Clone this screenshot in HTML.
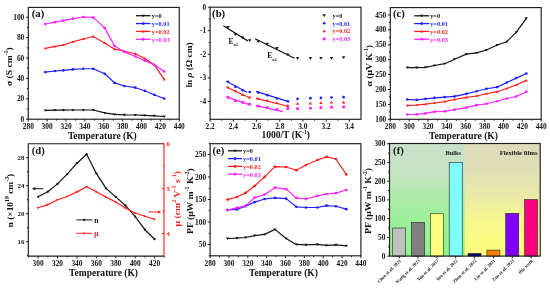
<!DOCTYPE html><html><head><meta charset="utf-8"><style>html,body{margin:0;padding:0;background:#fff;overflow:hidden;}svg{display:block;filter:blur(0.35px);}text{font-family:"Liberation Serif",serif;font-weight:bold;}</style></head><body>
<svg width="550" height="288" viewBox="0 0 550 288">
<defs><linearGradient id="gG" x1="0" y1="0" x2="0" y2="1"><stop offset="0" stop-color="rgb(200,225,200)"/><stop offset="0.19" stop-color="rgb(200,226,199)"/><stop offset="0.32" stop-color="rgb(193,230,190)"/><stop offset="0.41" stop-color="rgb(180,233,175)"/><stop offset="0.59" stop-color="rgb(162,238,159)"/><stop offset="0.77" stop-color="rgb(150,243,149)"/><stop offset="1" stop-color="rgb(140,246,140)"/></linearGradient><linearGradient id="gY" x1="0" y1="0" x2="0" y2="1"><stop offset="0" stop-color="rgb(221,221,186)"/><stop offset="0.19" stop-color="rgb(222,222,184)"/><stop offset="0.34" stop-color="rgb(228,228,176)"/><stop offset="0.5" stop-color="rgb(236,236,163)"/><stop offset="0.68" stop-color="rgb(246,246,142)"/><stop offset="0.86" stop-color="rgb(252,252,130)"/><stop offset="1" stop-color="rgb(253,253,126)"/></linearGradient></defs>
<line x1="28.30" y1="119.20" x2="28.30" y2="121.50" stroke="#1c1c1c" stroke-width="1.0"/>
<text x="28.30" y="129.30" font-size="7.4" text-anchor="middle" fill="#111">280</text>
<line x1="47.17" y1="119.20" x2="47.17" y2="121.50" stroke="#1c1c1c" stroke-width="1.0"/>
<text x="47.17" y="129.30" font-size="7.4" text-anchor="middle" fill="#111">300</text>
<line x1="66.04" y1="119.20" x2="66.04" y2="121.50" stroke="#1c1c1c" stroke-width="1.0"/>
<text x="66.04" y="129.30" font-size="7.4" text-anchor="middle" fill="#111">320</text>
<line x1="84.91" y1="119.20" x2="84.91" y2="121.50" stroke="#1c1c1c" stroke-width="1.0"/>
<text x="84.91" y="129.30" font-size="7.4" text-anchor="middle" fill="#111">340</text>
<line x1="103.77" y1="119.20" x2="103.77" y2="121.50" stroke="#1c1c1c" stroke-width="1.0"/>
<text x="103.77" y="129.30" font-size="7.4" text-anchor="middle" fill="#111">360</text>
<line x1="122.64" y1="119.20" x2="122.64" y2="121.50" stroke="#1c1c1c" stroke-width="1.0"/>
<text x="122.64" y="129.30" font-size="7.4" text-anchor="middle" fill="#111">380</text>
<line x1="141.51" y1="119.20" x2="141.51" y2="121.50" stroke="#1c1c1c" stroke-width="1.0"/>
<text x="141.51" y="129.30" font-size="7.4" text-anchor="middle" fill="#111">400</text>
<line x1="160.38" y1="119.20" x2="160.38" y2="121.50" stroke="#1c1c1c" stroke-width="1.0"/>
<text x="160.38" y="129.30" font-size="7.4" text-anchor="middle" fill="#111">420</text>
<line x1="179.25" y1="119.20" x2="179.25" y2="121.50" stroke="#1c1c1c" stroke-width="1.0"/>
<text x="179.25" y="129.30" font-size="7.4" text-anchor="middle" fill="#111">440</text>
<line x1="37.73" y1="119.20" x2="37.73" y2="120.60" stroke="#1c1c1c" stroke-width="1.0"/>
<line x1="56.60" y1="119.20" x2="56.60" y2="120.60" stroke="#1c1c1c" stroke-width="1.0"/>
<line x1="75.47" y1="119.20" x2="75.47" y2="120.60" stroke="#1c1c1c" stroke-width="1.0"/>
<line x1="94.34" y1="119.20" x2="94.34" y2="120.60" stroke="#1c1c1c" stroke-width="1.0"/>
<line x1="113.21" y1="119.20" x2="113.21" y2="120.60" stroke="#1c1c1c" stroke-width="1.0"/>
<line x1="132.08" y1="119.20" x2="132.08" y2="120.60" stroke="#1c1c1c" stroke-width="1.0"/>
<line x1="150.95" y1="119.20" x2="150.95" y2="120.60" stroke="#1c1c1c" stroke-width="1.0"/>
<line x1="169.82" y1="119.20" x2="169.82" y2="120.60" stroke="#1c1c1c" stroke-width="1.0"/>
<line x1="26.00" y1="119.20" x2="28.30" y2="119.20" stroke="#1c1c1c" stroke-width="1.0"/>
<text x="24.30" y="121.75" font-size="7.4" text-anchor="end" fill="#111">0</text>
<line x1="26.00" y1="98.80" x2="28.30" y2="98.80" stroke="#1c1c1c" stroke-width="1.0"/>
<text x="24.30" y="101.35" font-size="7.4" text-anchor="end" fill="#111">20</text>
<line x1="26.00" y1="78.40" x2="28.30" y2="78.40" stroke="#1c1c1c" stroke-width="1.0"/>
<text x="24.30" y="80.95" font-size="7.4" text-anchor="end" fill="#111">40</text>
<line x1="26.00" y1="58.00" x2="28.30" y2="58.00" stroke="#1c1c1c" stroke-width="1.0"/>
<text x="24.30" y="60.55" font-size="7.4" text-anchor="end" fill="#111">60</text>
<line x1="26.00" y1="37.60" x2="28.30" y2="37.60" stroke="#1c1c1c" stroke-width="1.0"/>
<text x="24.30" y="40.15" font-size="7.4" text-anchor="end" fill="#111">80</text>
<line x1="26.00" y1="17.20" x2="28.30" y2="17.20" stroke="#1c1c1c" stroke-width="1.0"/>
<text x="24.30" y="19.75" font-size="7.4" text-anchor="end" fill="#111">100</text>
<line x1="26.90" y1="109.00" x2="28.30" y2="109.00" stroke="#1c1c1c" stroke-width="1.0"/>
<line x1="26.90" y1="88.60" x2="28.30" y2="88.60" stroke="#1c1c1c" stroke-width="1.0"/>
<line x1="26.90" y1="68.20" x2="28.30" y2="68.20" stroke="#1c1c1c" stroke-width="1.0"/>
<line x1="26.90" y1="47.80" x2="28.30" y2="47.80" stroke="#1c1c1c" stroke-width="1.0"/>
<line x1="26.90" y1="27.40" x2="28.30" y2="27.40" stroke="#1c1c1c" stroke-width="1.0"/>
<polyline points="45.30,110.40 54.90,110.20 63.30,110.10 72.80,110.00 83.30,110.00 93.20,110.00 104.70,112.90 114.60,114.40 124.40,114.80 135.40,115.00 144.80,115.40 154.20,115.80 164.20,116.50" fill="none" stroke="#141414" stroke-width="1.2" stroke-linejoin="round"/>
<path d="M43.75,109.39L46.85,109.39L45.30,111.82Z" fill="#141414"/>
<path d="M53.35,109.19L56.45,109.19L54.90,111.62Z" fill="#141414"/>
<path d="M61.75,109.09L64.85,109.09L63.30,111.52Z" fill="#141414"/>
<path d="M71.25,108.99L74.35,108.99L72.80,111.42Z" fill="#141414"/>
<path d="M81.75,108.99L84.85,108.99L83.30,111.42Z" fill="#141414"/>
<path d="M91.65,108.99L94.75,108.99L93.20,111.42Z" fill="#141414"/>
<path d="M103.15,111.89L106.25,111.89L104.70,114.32Z" fill="#141414"/>
<path d="M113.05,113.39L116.15,113.39L114.60,115.82Z" fill="#141414"/>
<path d="M122.85,113.79L125.95,113.79L124.40,116.22Z" fill="#141414"/>
<path d="M133.85,113.99L136.95,113.99L135.40,116.42Z" fill="#141414"/>
<path d="M143.25,114.39L146.35,114.39L144.80,116.82Z" fill="#141414"/>
<path d="M152.65,114.79L155.75,114.79L154.20,117.22Z" fill="#141414"/>
<path d="M162.65,115.49L165.75,115.49L164.20,117.92Z" fill="#141414"/>
<polyline points="45.30,72.10 54.90,71.00 63.30,70.40 72.80,69.40 83.30,68.75 93.20,68.75 104.70,73.80 114.60,82.90 124.40,86.00 135.40,87.70 144.80,90.80 154.20,94.80 164.20,98.50" fill="none" stroke="#1e1eff" stroke-width="1.2" stroke-linejoin="round"/>
<circle cx="45.30" cy="72.10" r="1.35" fill="#1e1eff"/>
<circle cx="54.90" cy="71.00" r="1.35" fill="#1e1eff"/>
<circle cx="63.30" cy="70.40" r="1.35" fill="#1e1eff"/>
<circle cx="72.80" cy="69.40" r="1.35" fill="#1e1eff"/>
<circle cx="83.30" cy="68.75" r="1.35" fill="#1e1eff"/>
<circle cx="93.20" cy="68.75" r="1.35" fill="#1e1eff"/>
<circle cx="104.70" cy="73.80" r="1.35" fill="#1e1eff"/>
<circle cx="114.60" cy="82.90" r="1.35" fill="#1e1eff"/>
<circle cx="124.40" cy="86.00" r="1.35" fill="#1e1eff"/>
<circle cx="135.40" cy="87.70" r="1.35" fill="#1e1eff"/>
<circle cx="144.80" cy="90.80" r="1.35" fill="#1e1eff"/>
<circle cx="154.20" cy="94.80" r="1.35" fill="#1e1eff"/>
<circle cx="164.20" cy="98.50" r="1.35" fill="#1e1eff"/>
<polyline points="45.30,48.30 54.90,46.40 63.30,45.10 72.80,41.80 83.30,39.00 93.20,36.50 104.70,42.90 114.60,49.20 124.40,51.25 135.40,53.75 144.80,58.50 154.20,64.80 164.20,79.40" fill="none" stroke="#ff1e1e" stroke-width="1.2" stroke-linejoin="round"/>
<path d="M43.75,49.31L46.85,49.31L45.30,46.88Z" fill="#ff1e1e"/>
<path d="M53.35,47.41L56.45,47.41L54.90,44.98Z" fill="#ff1e1e"/>
<path d="M61.75,46.11L64.85,46.11L63.30,43.68Z" fill="#ff1e1e"/>
<path d="M71.25,42.81L74.35,42.81L72.80,40.38Z" fill="#ff1e1e"/>
<path d="M81.75,40.01L84.85,40.01L83.30,37.58Z" fill="#ff1e1e"/>
<path d="M91.65,37.51L94.75,37.51L93.20,35.08Z" fill="#ff1e1e"/>
<path d="M103.15,43.91L106.25,43.91L104.70,41.48Z" fill="#ff1e1e"/>
<path d="M113.05,50.21L116.15,50.21L114.60,47.78Z" fill="#ff1e1e"/>
<path d="M122.85,52.26L125.95,52.26L124.40,49.83Z" fill="#ff1e1e"/>
<path d="M133.85,54.76L136.95,54.76L135.40,52.33Z" fill="#ff1e1e"/>
<path d="M143.25,59.51L146.35,59.51L144.80,57.08Z" fill="#ff1e1e"/>
<path d="M152.65,65.81L155.75,65.81L154.20,63.38Z" fill="#ff1e1e"/>
<path d="M162.65,80.41L165.75,80.41L164.20,77.98Z" fill="#ff1e1e"/>
<polyline points="45.30,24.00 54.90,22.20 63.30,20.70 72.80,18.70 83.30,17.00 93.20,17.40 104.70,27.90 114.60,46.00 124.40,51.90 135.40,56.50 144.80,60.60 154.20,64.80 164.20,71.50" fill="none" stroke="#ff1eff" stroke-width="1.2" stroke-linejoin="round"/>
<circle cx="45.30" cy="24.00" r="1.35" fill="#ff1eff"/>
<circle cx="54.90" cy="22.20" r="1.35" fill="#ff1eff"/>
<circle cx="63.30" cy="20.70" r="1.35" fill="#ff1eff"/>
<circle cx="72.80" cy="18.70" r="1.35" fill="#ff1eff"/>
<circle cx="83.30" cy="17.00" r="1.35" fill="#ff1eff"/>
<circle cx="93.20" cy="17.40" r="1.35" fill="#ff1eff"/>
<circle cx="104.70" cy="27.90" r="1.35" fill="#ff1eff"/>
<circle cx="114.60" cy="46.00" r="1.35" fill="#ff1eff"/>
<circle cx="124.40" cy="51.90" r="1.35" fill="#ff1eff"/>
<circle cx="135.40" cy="56.50" r="1.35" fill="#ff1eff"/>
<circle cx="144.80" cy="60.60" r="1.35" fill="#ff1eff"/>
<circle cx="154.20" cy="64.80" r="1.35" fill="#ff1eff"/>
<circle cx="164.20" cy="71.50" r="1.35" fill="#ff1eff"/>
<rect x="28.30" y="7.40" width="150.95" height="111.80" fill="none" stroke="#1c1c1c" stroke-width="1.15"/>
<text x="31.80" y="17.10" font-size="10.7" text-anchor="start" fill="#111">(a)</text>
<line x1="136.00" y1="15.70" x2="150.50" y2="15.70" stroke="#141414" stroke-width="1.3"/>
<path d="M141.64,14.65L144.86,14.65L143.25,17.17Z" fill="#141414"/>
<text x="151.80" y="18.05" font-size="6.3" text-anchor="start" fill="#141414">y=0</text>
<line x1="136.00" y1="23.55" x2="150.50" y2="23.55" stroke="#1e1eff" stroke-width="1.3"/>
<circle cx="143.25" cy="23.55" r="1.40" fill="#1e1eff"/>
<text x="151.80" y="25.90" font-size="6.3" text-anchor="start" fill="#1e1eff">y=0.01</text>
<line x1="136.00" y1="31.40" x2="150.50" y2="31.40" stroke="#ff1e1e" stroke-width="1.3"/>
<path d="M141.64,32.45L144.86,32.45L143.25,29.93Z" fill="#ff1e1e"/>
<text x="151.80" y="33.75" font-size="6.3" text-anchor="start" fill="#ff1e1e">y=0.02</text>
<line x1="136.00" y1="39.25" x2="150.50" y2="39.25" stroke="#ff1eff" stroke-width="1.3"/>
<circle cx="143.25" cy="39.25" r="1.40" fill="#ff1eff"/>
<text x="151.80" y="41.60" font-size="6.3" text-anchor="start" fill="#ff1eff">y=0.03</text>
<text transform="translate(12.00,66.65) rotate(-90)" font-size="9.0" text-anchor="middle" fill="#111" textLength="38.70" lengthAdjust="spacingAndGlyphs">σ (S cm<tspan baseline-shift="4.4" font-size="5.6">-1</tspan>)</text>
<text x="67.90" y="138.50" font-size="9.6" text-anchor="start" fill="#111" textLength="68.90" lengthAdjust="spacingAndGlyphs">Temperature (K)</text>
<line x1="210.10" y1="119.30" x2="210.10" y2="121.60" stroke="#1c1c1c" stroke-width="1.0"/>
<text x="210.10" y="129.40" font-size="7.4" text-anchor="middle" fill="#111">2.2</text>
<line x1="233.32" y1="119.30" x2="233.32" y2="121.60" stroke="#1c1c1c" stroke-width="1.0"/>
<text x="233.32" y="129.40" font-size="7.4" text-anchor="middle" fill="#111">2.4</text>
<line x1="256.53" y1="119.30" x2="256.53" y2="121.60" stroke="#1c1c1c" stroke-width="1.0"/>
<text x="256.53" y="129.40" font-size="7.4" text-anchor="middle" fill="#111">2.6</text>
<line x1="279.75" y1="119.30" x2="279.75" y2="121.60" stroke="#1c1c1c" stroke-width="1.0"/>
<text x="279.75" y="129.40" font-size="7.4" text-anchor="middle" fill="#111">2.8</text>
<line x1="302.96" y1="119.30" x2="302.96" y2="121.60" stroke="#1c1c1c" stroke-width="1.0"/>
<text x="302.96" y="129.40" font-size="7.4" text-anchor="middle" fill="#111">3.0</text>
<line x1="326.18" y1="119.30" x2="326.18" y2="121.60" stroke="#1c1c1c" stroke-width="1.0"/>
<text x="326.18" y="129.40" font-size="7.4" text-anchor="middle" fill="#111">3.2</text>
<line x1="349.39" y1="119.30" x2="349.39" y2="121.60" stroke="#1c1c1c" stroke-width="1.0"/>
<text x="349.39" y="129.40" font-size="7.4" text-anchor="middle" fill="#111">3.4</text>
<line x1="221.71" y1="119.30" x2="221.71" y2="120.70" stroke="#1c1c1c" stroke-width="1.0"/>
<line x1="244.92" y1="119.30" x2="244.92" y2="120.70" stroke="#1c1c1c" stroke-width="1.0"/>
<line x1="268.14" y1="119.30" x2="268.14" y2="120.70" stroke="#1c1c1c" stroke-width="1.0"/>
<line x1="291.35" y1="119.30" x2="291.35" y2="120.70" stroke="#1c1c1c" stroke-width="1.0"/>
<line x1="314.57" y1="119.30" x2="314.57" y2="120.70" stroke="#1c1c1c" stroke-width="1.0"/>
<line x1="337.78" y1="119.30" x2="337.78" y2="120.70" stroke="#1c1c1c" stroke-width="1.0"/>
<line x1="207.80" y1="7.10" x2="210.10" y2="7.10" stroke="#1c1c1c" stroke-width="1.0"/>
<text x="206.10" y="9.65" font-size="7.4" text-anchor="end" fill="#111">0</text>
<line x1="207.80" y1="30.70" x2="210.10" y2="30.70" stroke="#1c1c1c" stroke-width="1.0"/>
<text x="206.10" y="33.25" font-size="7.4" text-anchor="end" fill="#111">-1</text>
<line x1="207.80" y1="54.30" x2="210.10" y2="54.30" stroke="#1c1c1c" stroke-width="1.0"/>
<text x="206.10" y="56.85" font-size="7.4" text-anchor="end" fill="#111">-2</text>
<line x1="207.80" y1="77.90" x2="210.10" y2="77.90" stroke="#1c1c1c" stroke-width="1.0"/>
<text x="206.10" y="80.45" font-size="7.4" text-anchor="end" fill="#111">-3</text>
<line x1="207.80" y1="101.50" x2="210.10" y2="101.50" stroke="#1c1c1c" stroke-width="1.0"/>
<text x="206.10" y="104.05" font-size="7.4" text-anchor="end" fill="#111">-4</text>
<line x1="208.70" y1="18.90" x2="210.10" y2="18.90" stroke="#1c1c1c" stroke-width="1.0"/>
<line x1="208.70" y1="42.50" x2="210.10" y2="42.50" stroke="#1c1c1c" stroke-width="1.0"/>
<line x1="208.70" y1="66.10" x2="210.10" y2="66.10" stroke="#1c1c1c" stroke-width="1.0"/>
<line x1="208.70" y1="89.70" x2="210.10" y2="89.70" stroke="#1c1c1c" stroke-width="1.0"/>
<line x1="208.70" y1="113.30" x2="210.10" y2="113.30" stroke="#1c1c1c" stroke-width="1.0"/>
<line x1="223.30" y1="25.70" x2="247.80" y2="40.90" stroke="#141414" stroke-width="1.25"/>
<line x1="255.10" y1="38.70" x2="294.50" y2="58.20" stroke="#141414" stroke-width="1.25"/>
<line x1="226.30" y1="81.30" x2="247.10" y2="92.20" stroke="#1e1eff" stroke-width="1.25"/>
<line x1="256.10" y1="91.40" x2="289.30" y2="101.80" stroke="#1e1eff" stroke-width="1.25"/>
<line x1="226.30" y1="87.00" x2="249.70" y2="97.80" stroke="#ff1e1e" stroke-width="1.25"/>
<line x1="256.00" y1="98.40" x2="289.00" y2="106.50" stroke="#ff1e1e" stroke-width="1.25"/>
<line x1="226.30" y1="96.90" x2="249.40" y2="104.70" stroke="#ff1eff" stroke-width="1.25"/>
<line x1="256.00" y1="105.60" x2="282.70" y2="111.70" stroke="#ff1eff" stroke-width="1.25"/>
<path d="M226.28,26.07L229.72,26.07L228.00,28.77Z" fill="#141414"/>
<path d="M233.68,33.38L237.12,33.38L235.40,36.08Z" fill="#141414"/>
<path d="M240.97,36.48L244.42,36.48L242.70,39.18Z" fill="#141414"/>
<path d="M247.97,39.17L251.42,39.17L249.70,41.88Z" fill="#141414"/>
<path d="M256.47,40.38L259.93,40.38L258.20,43.08Z" fill="#141414"/>
<path d="M265.57,42.67L269.03,42.67L267.30,45.38Z" fill="#141414"/>
<path d="M275.17,47.08L278.62,47.08L276.90,49.78Z" fill="#141414"/>
<path d="M286.07,53.38L289.53,53.38L287.80,56.08Z" fill="#141414"/>
<path d="M295.88,57.08L299.33,57.08L297.60,59.78Z" fill="#141414"/>
<path d="M308.67,57.08L312.12,57.08L310.40,59.78Z" fill="#141414"/>
<path d="M319.17,57.08L322.62,57.08L320.90,59.78Z" fill="#141414"/>
<path d="M329.77,57.08L333.23,57.08L331.50,59.78Z" fill="#141414"/>
<path d="M341.88,56.17L345.33,56.17L343.60,58.88Z" fill="#141414"/>
<circle cx="228.00" cy="81.80" r="1.35" fill="#1e1eff"/>
<circle cx="235.40" cy="86.80" r="1.35" fill="#1e1eff"/>
<circle cx="242.70" cy="90.30" r="1.35" fill="#1e1eff"/>
<circle cx="249.70" cy="92.00" r="1.35" fill="#1e1eff"/>
<circle cx="258.20" cy="92.60" r="1.35" fill="#1e1eff"/>
<circle cx="267.30" cy="95.20" r="1.35" fill="#1e1eff"/>
<circle cx="276.90" cy="98.30" r="1.35" fill="#1e1eff"/>
<circle cx="287.80" cy="101.25" r="1.35" fill="#1e1eff"/>
<circle cx="297.60" cy="98.90" r="1.35" fill="#1e1eff"/>
<circle cx="310.40" cy="98.20" r="1.35" fill="#1e1eff"/>
<circle cx="320.90" cy="97.90" r="1.35" fill="#1e1eff"/>
<circle cx="331.50" cy="97.50" r="1.35" fill="#1e1eff"/>
<circle cx="343.60" cy="97.20" r="1.35" fill="#1e1eff"/>
<path d="M226.28,88.53L229.72,88.53L228.00,85.83Z" fill="#ff1e1e"/>
<path d="M233.68,92.33L237.12,92.33L235.40,89.62Z" fill="#ff1e1e"/>
<path d="M240.97,95.92L244.42,95.92L242.70,93.22Z" fill="#ff1e1e"/>
<path d="M247.97,98.42L251.42,98.42L249.70,95.72Z" fill="#ff1e1e"/>
<path d="M256.47,99.72L259.93,99.72L258.20,97.02Z" fill="#ff1e1e"/>
<path d="M265.57,101.83L269.03,101.83L267.30,99.12Z" fill="#ff1e1e"/>
<path d="M275.17,104.12L278.62,104.12L276.90,101.42Z" fill="#ff1e1e"/>
<path d="M286.07,106.72L289.53,106.72L287.80,104.02Z" fill="#ff1e1e"/>
<path d="M295.88,104.72L299.33,104.72L297.60,102.02Z" fill="#ff1e1e"/>
<path d="M308.67,104.42L312.12,104.42L310.40,101.72Z" fill="#ff1e1e"/>
<path d="M319.17,103.92L322.62,103.92L320.90,101.22Z" fill="#ff1e1e"/>
<path d="M329.77,103.62L333.23,103.62L331.50,100.92Z" fill="#ff1e1e"/>
<path d="M341.88,103.42L345.33,103.42L343.60,100.72Z" fill="#ff1e1e"/>
<rect x="226.65" y="95.85" width="2.70" height="2.70" fill="#ff1eff"/>
<rect x="234.05" y="99.35" width="2.70" height="2.70" fill="#ff1eff"/>
<rect x="241.35" y="101.15" width="2.70" height="2.70" fill="#ff1eff"/>
<rect x="248.35" y="102.85" width="2.70" height="2.70" fill="#ff1eff"/>
<rect x="256.85" y="104.75" width="2.70" height="2.70" fill="#ff1eff"/>
<rect x="265.95" y="106.35" width="2.70" height="2.70" fill="#ff1eff"/>
<rect x="275.55" y="108.25" width="2.70" height="2.70" fill="#ff1eff"/>
<rect x="286.45" y="107.15" width="2.70" height="2.70" fill="#ff1eff"/>
<rect x="296.25" y="107.35" width="2.70" height="2.70" fill="#ff1eff"/>
<rect x="309.05" y="106.75" width="2.70" height="2.70" fill="#ff1eff"/>
<rect x="319.55" y="106.25" width="2.70" height="2.70" fill="#ff1eff"/>
<rect x="330.15" y="105.85" width="2.70" height="2.70" fill="#ff1eff"/>
<rect x="342.25" y="105.55" width="2.70" height="2.70" fill="#ff1eff"/>
<rect x="210.10" y="7.20" width="150.90" height="112.10" fill="none" stroke="#1c1c1c" stroke-width="1.15"/>
<text x="212.10" y="17.10" font-size="10.7" text-anchor="start" fill="#111">(b)</text>
<text x="228.40" y="43.80" font-size="7.5" text-anchor="start" fill="#111">E</text>
<text x="233.40" y="46.30" font-size="4.5" text-anchor="start" fill="#111">a1</text>
<text x="267.30" y="58.00" font-size="7.5" text-anchor="start" fill="#111">E</text>
<text x="272.30" y="60.50" font-size="4.5" text-anchor="start" fill="#111">a2</text>
<path d="M322.47,14.28L325.93,14.28L324.20,16.98Z" fill="#141414"/>
<text x="332.50" y="17.75" font-size="6.3" text-anchor="start" fill="#141414">y=0</text>
<circle cx="324.20" cy="23.25" r="1.35" fill="#1e1eff"/>
<text x="332.50" y="25.60" font-size="6.3" text-anchor="start" fill="#1e1eff">y=0.01</text>
<path d="M322.47,32.23L325.93,32.23L324.20,29.53Z" fill="#ff1e1e"/>
<text x="332.50" y="33.45" font-size="6.3" text-anchor="start" fill="#ff1e1e">y=0.02</text>
<rect x="322.85" y="37.60" width="2.70" height="2.70" fill="#ff1eff"/>
<text x="332.50" y="41.30" font-size="6.3" text-anchor="start" fill="#ff1eff">y=0.03</text>
<text transform="translate(191.80,65.00) rotate(-90)" font-size="9.0" text-anchor="middle" fill="#111" textLength="45.00" lengthAdjust="spacingAndGlyphs">ln <tspan font-style="italic">ρ</tspan> (Ω cm)</text>
<text x="261.50" y="137.80" font-size="9.6" text-anchor="start" fill="#111" textLength="48.50" lengthAdjust="spacingAndGlyphs">1000/T (K<tspan baseline-shift="4.4" font-size="5.6">-1</tspan>)</text>
<line x1="390.30" y1="119.30" x2="390.30" y2="121.60" stroke="#1c1c1c" stroke-width="1.0"/>
<text x="390.30" y="129.40" font-size="7.4" text-anchor="middle" fill="#111">280</text>
<line x1="409.16" y1="119.30" x2="409.16" y2="121.60" stroke="#1c1c1c" stroke-width="1.0"/>
<text x="409.16" y="129.40" font-size="7.4" text-anchor="middle" fill="#111">300</text>
<line x1="428.03" y1="119.30" x2="428.03" y2="121.60" stroke="#1c1c1c" stroke-width="1.0"/>
<text x="428.03" y="129.40" font-size="7.4" text-anchor="middle" fill="#111">320</text>
<line x1="446.89" y1="119.30" x2="446.89" y2="121.60" stroke="#1c1c1c" stroke-width="1.0"/>
<text x="446.89" y="129.40" font-size="7.4" text-anchor="middle" fill="#111">340</text>
<line x1="465.75" y1="119.30" x2="465.75" y2="121.60" stroke="#1c1c1c" stroke-width="1.0"/>
<text x="465.75" y="129.40" font-size="7.4" text-anchor="middle" fill="#111">360</text>
<line x1="484.61" y1="119.30" x2="484.61" y2="121.60" stroke="#1c1c1c" stroke-width="1.0"/>
<text x="484.61" y="129.40" font-size="7.4" text-anchor="middle" fill="#111">380</text>
<line x1="503.48" y1="119.30" x2="503.48" y2="121.60" stroke="#1c1c1c" stroke-width="1.0"/>
<text x="503.48" y="129.40" font-size="7.4" text-anchor="middle" fill="#111">400</text>
<line x1="522.34" y1="119.30" x2="522.34" y2="121.60" stroke="#1c1c1c" stroke-width="1.0"/>
<text x="522.34" y="129.40" font-size="7.4" text-anchor="middle" fill="#111">420</text>
<line x1="541.20" y1="119.30" x2="541.20" y2="121.60" stroke="#1c1c1c" stroke-width="1.0"/>
<text x="541.20" y="129.40" font-size="7.4" text-anchor="middle" fill="#111">440</text>
<line x1="399.73" y1="119.30" x2="399.73" y2="120.70" stroke="#1c1c1c" stroke-width="1.0"/>
<line x1="418.59" y1="119.30" x2="418.59" y2="120.70" stroke="#1c1c1c" stroke-width="1.0"/>
<line x1="437.46" y1="119.30" x2="437.46" y2="120.70" stroke="#1c1c1c" stroke-width="1.0"/>
<line x1="456.32" y1="119.30" x2="456.32" y2="120.70" stroke="#1c1c1c" stroke-width="1.0"/>
<line x1="475.18" y1="119.30" x2="475.18" y2="120.70" stroke="#1c1c1c" stroke-width="1.0"/>
<line x1="494.04" y1="119.30" x2="494.04" y2="120.70" stroke="#1c1c1c" stroke-width="1.0"/>
<line x1="512.91" y1="119.30" x2="512.91" y2="120.70" stroke="#1c1c1c" stroke-width="1.0"/>
<line x1="531.77" y1="119.30" x2="531.77" y2="120.70" stroke="#1c1c1c" stroke-width="1.0"/>
<line x1="388.00" y1="119.30" x2="390.30" y2="119.30" stroke="#1c1c1c" stroke-width="1.0"/>
<text x="386.30" y="121.85" font-size="7.4" text-anchor="end" fill="#111">100</text>
<line x1="388.00" y1="104.40" x2="390.30" y2="104.40" stroke="#1c1c1c" stroke-width="1.0"/>
<text x="386.30" y="106.95" font-size="7.4" text-anchor="end" fill="#111">150</text>
<line x1="388.00" y1="89.50" x2="390.30" y2="89.50" stroke="#1c1c1c" stroke-width="1.0"/>
<text x="386.30" y="92.05" font-size="7.4" text-anchor="end" fill="#111">200</text>
<line x1="388.00" y1="74.60" x2="390.30" y2="74.60" stroke="#1c1c1c" stroke-width="1.0"/>
<text x="386.30" y="77.15" font-size="7.4" text-anchor="end" fill="#111">250</text>
<line x1="388.00" y1="59.70" x2="390.30" y2="59.70" stroke="#1c1c1c" stroke-width="1.0"/>
<text x="386.30" y="62.25" font-size="7.4" text-anchor="end" fill="#111">300</text>
<line x1="388.00" y1="44.80" x2="390.30" y2="44.80" stroke="#1c1c1c" stroke-width="1.0"/>
<text x="386.30" y="47.35" font-size="7.4" text-anchor="end" fill="#111">350</text>
<line x1="388.00" y1="29.90" x2="390.30" y2="29.90" stroke="#1c1c1c" stroke-width="1.0"/>
<text x="386.30" y="32.45" font-size="7.4" text-anchor="end" fill="#111">400</text>
<line x1="388.00" y1="15.00" x2="390.30" y2="15.00" stroke="#1c1c1c" stroke-width="1.0"/>
<text x="386.30" y="17.55" font-size="7.4" text-anchor="end" fill="#111">450</text>
<line x1="388.90" y1="111.85" x2="390.30" y2="111.85" stroke="#1c1c1c" stroke-width="1.0"/>
<line x1="388.90" y1="96.95" x2="390.30" y2="96.95" stroke="#1c1c1c" stroke-width="1.0"/>
<line x1="388.90" y1="82.05" x2="390.30" y2="82.05" stroke="#1c1c1c" stroke-width="1.0"/>
<line x1="388.90" y1="67.15" x2="390.30" y2="67.15" stroke="#1c1c1c" stroke-width="1.0"/>
<line x1="388.90" y1="52.25" x2="390.30" y2="52.25" stroke="#1c1c1c" stroke-width="1.0"/>
<line x1="388.90" y1="37.35" x2="390.30" y2="37.35" stroke="#1c1c1c" stroke-width="1.0"/>
<line x1="388.90" y1="22.45" x2="390.30" y2="22.45" stroke="#1c1c1c" stroke-width="1.0"/>
<polyline points="407.30,67.60 416.70,67.60 425.50,67.30 434.50,65.50 444.80,63.70 454.50,59.20 466.40,54.10 476.60,52.90 486.40,50.00 497.20,45.00 506.80,41.70 516.20,32.30 526.30,18.30" fill="none" stroke="#141414" stroke-width="1.2" stroke-linejoin="round"/>
<path d="M405.75,66.59L408.85,66.59L407.30,69.02Z" fill="#141414"/>
<path d="M415.15,66.59L418.25,66.59L416.70,69.02Z" fill="#141414"/>
<path d="M423.95,66.29L427.05,66.29L425.50,68.72Z" fill="#141414"/>
<path d="M432.95,64.49L436.05,64.49L434.50,66.92Z" fill="#141414"/>
<path d="M443.25,62.69L446.35,62.69L444.80,65.12Z" fill="#141414"/>
<path d="M452.95,58.19L456.05,58.19L454.50,60.62Z" fill="#141414"/>
<path d="M464.85,53.09L467.95,53.09L466.40,55.52Z" fill="#141414"/>
<path d="M475.05,51.89L478.15,51.89L476.60,54.32Z" fill="#141414"/>
<path d="M484.85,48.99L487.95,48.99L486.40,51.42Z" fill="#141414"/>
<path d="M495.65,43.99L498.75,43.99L497.20,46.42Z" fill="#141414"/>
<path d="M505.25,40.69L508.35,40.69L506.80,43.12Z" fill="#141414"/>
<path d="M514.65,31.29L517.75,31.29L516.20,33.72Z" fill="#141414"/>
<path d="M524.75,17.29L527.85,17.29L526.30,19.72Z" fill="#141414"/>
<polyline points="407.30,99.50 416.70,99.90 425.50,98.80 434.50,97.80 444.80,97.10 454.50,96.40 466.40,93.80 476.60,91.25 486.40,88.75 497.20,87.10 506.80,82.50 516.20,78.10 526.30,73.50" fill="none" stroke="#1e1eff" stroke-width="1.2" stroke-linejoin="round"/>
<circle cx="407.30" cy="99.50" r="1.35" fill="#1e1eff"/>
<circle cx="416.70" cy="99.90" r="1.35" fill="#1e1eff"/>
<circle cx="425.50" cy="98.80" r="1.35" fill="#1e1eff"/>
<circle cx="434.50" cy="97.80" r="1.35" fill="#1e1eff"/>
<circle cx="444.80" cy="97.10" r="1.35" fill="#1e1eff"/>
<circle cx="454.50" cy="96.40" r="1.35" fill="#1e1eff"/>
<circle cx="466.40" cy="93.80" r="1.35" fill="#1e1eff"/>
<circle cx="476.60" cy="91.25" r="1.35" fill="#1e1eff"/>
<circle cx="486.40" cy="88.75" r="1.35" fill="#1e1eff"/>
<circle cx="497.20" cy="87.10" r="1.35" fill="#1e1eff"/>
<circle cx="506.80" cy="82.50" r="1.35" fill="#1e1eff"/>
<circle cx="516.20" cy="78.10" r="1.35" fill="#1e1eff"/>
<circle cx="526.30" cy="73.50" r="1.35" fill="#1e1eff"/>
<polyline points="407.30,105.40 416.70,105.10 425.50,104.20 434.50,103.00 444.80,101.60 454.50,99.50 466.40,97.40 476.60,96.00 486.40,93.75 497.20,91.70 506.80,88.50 516.20,85.00 526.30,80.40" fill="none" stroke="#ff1e1e" stroke-width="1.2" stroke-linejoin="round"/>
<path d="M405.75,106.41L408.85,106.41L407.30,103.98Z" fill="#ff1e1e"/>
<path d="M415.15,106.11L418.25,106.11L416.70,103.68Z" fill="#ff1e1e"/>
<path d="M423.95,105.21L427.05,105.21L425.50,102.78Z" fill="#ff1e1e"/>
<path d="M432.95,104.01L436.05,104.01L434.50,101.58Z" fill="#ff1e1e"/>
<path d="M443.25,102.61L446.35,102.61L444.80,100.18Z" fill="#ff1e1e"/>
<path d="M452.95,100.51L456.05,100.51L454.50,98.08Z" fill="#ff1e1e"/>
<path d="M464.85,98.41L467.95,98.41L466.40,95.98Z" fill="#ff1e1e"/>
<path d="M475.05,97.01L478.15,97.01L476.60,94.58Z" fill="#ff1e1e"/>
<path d="M484.85,94.76L487.95,94.76L486.40,92.33Z" fill="#ff1e1e"/>
<path d="M495.65,92.71L498.75,92.71L497.20,90.28Z" fill="#ff1e1e"/>
<path d="M505.25,89.51L508.35,89.51L506.80,87.08Z" fill="#ff1e1e"/>
<path d="M514.65,86.01L517.75,86.01L516.20,83.58Z" fill="#ff1e1e"/>
<path d="M524.75,81.41L527.85,81.41L526.30,78.98Z" fill="#ff1e1e"/>
<polyline points="407.30,114.50 416.70,114.30 425.50,113.40 434.50,111.70 444.80,111.30 454.50,109.60 466.40,107.70 476.60,105.20 486.40,103.75 497.20,101.25 506.80,98.50 516.20,96.50 526.30,91.70" fill="none" stroke="#ff1eff" stroke-width="1.2" stroke-linejoin="round"/>
<circle cx="407.30" cy="114.50" r="1.35" fill="#ff1eff"/>
<circle cx="416.70" cy="114.30" r="1.35" fill="#ff1eff"/>
<circle cx="425.50" cy="113.40" r="1.35" fill="#ff1eff"/>
<circle cx="434.50" cy="111.70" r="1.35" fill="#ff1eff"/>
<circle cx="444.80" cy="111.30" r="1.35" fill="#ff1eff"/>
<circle cx="454.50" cy="109.60" r="1.35" fill="#ff1eff"/>
<circle cx="466.40" cy="107.70" r="1.35" fill="#ff1eff"/>
<circle cx="476.60" cy="105.20" r="1.35" fill="#ff1eff"/>
<circle cx="486.40" cy="103.75" r="1.35" fill="#ff1eff"/>
<circle cx="497.20" cy="101.25" r="1.35" fill="#ff1eff"/>
<circle cx="506.80" cy="98.50" r="1.35" fill="#ff1eff"/>
<circle cx="516.20" cy="96.50" r="1.35" fill="#ff1eff"/>
<circle cx="526.30" cy="91.70" r="1.35" fill="#ff1eff"/>
<rect x="390.30" y="7.60" width="150.90" height="111.70" fill="none" stroke="#1c1c1c" stroke-width="1.15"/>
<text x="393.00" y="17.10" font-size="10.7" text-anchor="start" fill="#111">(c)</text>
<line x1="414.20" y1="15.80" x2="429.20" y2="15.80" stroke="#141414" stroke-width="1.3"/>
<path d="M420.09,14.75L423.31,14.75L421.70,17.27Z" fill="#141414"/>
<text x="430.20" y="18.15" font-size="6.3" text-anchor="start" fill="#141414">y=0</text>
<line x1="414.20" y1="23.60" x2="429.20" y2="23.60" stroke="#1e1eff" stroke-width="1.3"/>
<circle cx="421.70" cy="23.60" r="1.40" fill="#1e1eff"/>
<text x="430.20" y="25.95" font-size="6.3" text-anchor="start" fill="#1e1eff">y=0.01</text>
<line x1="414.20" y1="31.40" x2="429.20" y2="31.40" stroke="#ff1e1e" stroke-width="1.3"/>
<path d="M420.09,32.45L423.31,32.45L421.70,29.93Z" fill="#ff1e1e"/>
<text x="430.20" y="33.75" font-size="6.3" text-anchor="start" fill="#ff1e1e">y=0.02</text>
<line x1="414.20" y1="39.20" x2="429.20" y2="39.20" stroke="#ff1eff" stroke-width="1.3"/>
<circle cx="421.70" cy="39.20" r="1.40" fill="#ff1eff"/>
<text x="430.20" y="41.55" font-size="6.3" text-anchor="start" fill="#ff1eff">y=0.03</text>
<text transform="translate(371.50,65.75) rotate(-90)" font-size="9.0" text-anchor="middle" fill="#111" textLength="41.70" lengthAdjust="spacingAndGlyphs">α (μV K<tspan baseline-shift="4.4" font-size="5.6">-1</tspan>)</text>
<text x="429.00" y="138.60" font-size="9.6" text-anchor="start" fill="#111" textLength="68.90" lengthAdjust="spacingAndGlyphs">Temperature (K)</text>
<line x1="38.10" y1="256.10" x2="38.10" y2="258.40" stroke="#1c1c1c" stroke-width="1.0"/>
<text x="38.10" y="266.20" font-size="7.4" text-anchor="middle" fill="#111">300</text>
<line x1="57.52" y1="256.10" x2="57.52" y2="258.40" stroke="#1c1c1c" stroke-width="1.0"/>
<text x="57.52" y="266.20" font-size="7.4" text-anchor="middle" fill="#111">320</text>
<line x1="76.93" y1="256.10" x2="76.93" y2="258.40" stroke="#1c1c1c" stroke-width="1.0"/>
<text x="76.93" y="266.20" font-size="7.4" text-anchor="middle" fill="#111">340</text>
<line x1="96.35" y1="256.10" x2="96.35" y2="258.40" stroke="#1c1c1c" stroke-width="1.0"/>
<text x="96.35" y="266.20" font-size="7.4" text-anchor="middle" fill="#111">360</text>
<line x1="115.76" y1="256.10" x2="115.76" y2="258.40" stroke="#1c1c1c" stroke-width="1.0"/>
<text x="115.76" y="266.20" font-size="7.4" text-anchor="middle" fill="#111">380</text>
<line x1="135.18" y1="256.10" x2="135.18" y2="258.40" stroke="#1c1c1c" stroke-width="1.0"/>
<text x="135.18" y="266.20" font-size="7.4" text-anchor="middle" fill="#111">400</text>
<line x1="154.60" y1="256.10" x2="154.60" y2="258.40" stroke="#1c1c1c" stroke-width="1.0"/>
<text x="154.60" y="266.20" font-size="7.4" text-anchor="middle" fill="#111">420</text>
<line x1="28.39" y1="256.10" x2="28.39" y2="257.50" stroke="#1c1c1c" stroke-width="1.0"/>
<line x1="47.81" y1="256.10" x2="47.81" y2="257.50" stroke="#1c1c1c" stroke-width="1.0"/>
<line x1="67.22" y1="256.10" x2="67.22" y2="257.50" stroke="#1c1c1c" stroke-width="1.0"/>
<line x1="86.64" y1="256.10" x2="86.64" y2="257.50" stroke="#1c1c1c" stroke-width="1.0"/>
<line x1="106.06" y1="256.10" x2="106.06" y2="257.50" stroke="#1c1c1c" stroke-width="1.0"/>
<line x1="125.47" y1="256.10" x2="125.47" y2="257.50" stroke="#1c1c1c" stroke-width="1.0"/>
<line x1="144.89" y1="256.10" x2="144.89" y2="257.50" stroke="#1c1c1c" stroke-width="1.0"/>
<line x1="164.30" y1="256.10" x2="164.30" y2="257.50" stroke="#1c1c1c" stroke-width="1.0"/>
<line x1="26.00" y1="241.70" x2="28.30" y2="241.70" stroke="#1c1c1c" stroke-width="1.0"/>
<text x="24.30" y="244.04" font-size="6.8" text-anchor="end" fill="#111">16</text>
<line x1="26.00" y1="213.70" x2="28.30" y2="213.70" stroke="#1c1c1c" stroke-width="1.0"/>
<text x="24.30" y="216.04" font-size="6.8" text-anchor="end" fill="#111">20</text>
<line x1="26.00" y1="185.70" x2="28.30" y2="185.70" stroke="#1c1c1c" stroke-width="1.0"/>
<text x="24.30" y="188.04" font-size="6.8" text-anchor="end" fill="#111">24</text>
<line x1="26.00" y1="157.70" x2="28.30" y2="157.70" stroke="#1c1c1c" stroke-width="1.0"/>
<text x="24.30" y="160.04" font-size="6.8" text-anchor="end" fill="#111">28</text>
<line x1="26.90" y1="255.70" x2="28.30" y2="255.70" stroke="#1c1c1c" stroke-width="1.0"/>
<line x1="26.90" y1="227.70" x2="28.30" y2="227.70" stroke="#1c1c1c" stroke-width="1.0"/>
<line x1="26.90" y1="199.70" x2="28.30" y2="199.70" stroke="#1c1c1c" stroke-width="1.0"/>
<line x1="26.90" y1="171.70" x2="28.30" y2="171.70" stroke="#1c1c1c" stroke-width="1.0"/>
<polyline points="38.10,196.80 47.81,191.70 57.52,183.90 67.22,174.20 76.93,163.20 86.64,154.20 96.35,173.40 106.06,188.40 115.76,196.90 125.47,205.50 135.18,216.70 144.89,229.70 154.60,239.20" fill="none" stroke="#141414" stroke-width="1.2" stroke-linejoin="round"/>
<circle cx="38.10" cy="196.80" r="1.15" fill="#141414"/>
<circle cx="47.81" cy="191.70" r="1.15" fill="#141414"/>
<circle cx="57.52" cy="183.90" r="1.15" fill="#141414"/>
<circle cx="67.22" cy="174.20" r="1.15" fill="#141414"/>
<circle cx="76.93" cy="163.20" r="1.15" fill="#141414"/>
<circle cx="86.64" cy="154.20" r="1.15" fill="#141414"/>
<circle cx="96.35" cy="173.40" r="1.15" fill="#141414"/>
<circle cx="106.06" cy="188.40" r="1.15" fill="#141414"/>
<circle cx="115.76" cy="196.90" r="1.15" fill="#141414"/>
<circle cx="125.47" cy="205.50" r="1.15" fill="#141414"/>
<circle cx="135.18" cy="216.70" r="1.15" fill="#141414"/>
<circle cx="144.89" cy="229.70" r="1.15" fill="#141414"/>
<circle cx="154.60" cy="239.20" r="1.15" fill="#141414"/>
<polyline points="38.10,207.70 47.81,204.60 57.52,199.70 67.22,196.50 76.93,191.90 86.64,186.80 96.35,191.80 106.06,197.10 115.76,202.00 125.47,208.00 135.18,213.00 144.89,216.20 154.60,219.20" fill="none" stroke="#ff1e1e" stroke-width="1.2" stroke-linejoin="round"/>
<path d="M37.12,206.40L37.12,209.00L39.47,207.70Z" fill="#ff1e1e"/>
<path d="M46.83,203.30L46.83,205.90L49.17,204.60Z" fill="#ff1e1e"/>
<path d="M56.54,198.40L56.54,201.00L58.88,199.70Z" fill="#ff1e1e"/>
<path d="M66.25,195.20L66.25,197.80L68.59,196.50Z" fill="#ff1e1e"/>
<path d="M75.96,190.60L75.96,193.20L78.30,191.90Z" fill="#ff1e1e"/>
<path d="M85.67,185.50L85.67,188.10L88.00,186.80Z" fill="#ff1e1e"/>
<path d="M95.37,190.50L95.37,193.10L97.71,191.80Z" fill="#ff1e1e"/>
<path d="M105.08,195.80L105.08,198.40L107.42,197.10Z" fill="#ff1e1e"/>
<path d="M114.79,200.70L114.79,203.30L117.13,202.00Z" fill="#ff1e1e"/>
<path d="M124.50,206.70L124.50,209.30L126.84,208.00Z" fill="#ff1e1e"/>
<path d="M134.21,211.70L134.21,214.30L136.55,213.00Z" fill="#ff1e1e"/>
<path d="M143.91,214.90L143.91,217.50L146.25,216.20Z" fill="#ff1e1e"/>
<path d="M153.62,217.90L153.62,220.50L155.96,219.20Z" fill="#ff1e1e"/>
<line x1="28.30" y1="143.70" x2="164.00" y2="143.70" stroke="#1c1c1c" stroke-width="1.15"/>
<line x1="28.30" y1="143.20" x2="28.30" y2="256.60" stroke="#1c1c1c" stroke-width="1.15"/>
<line x1="28.30" y1="256.10" x2="164.00" y2="256.10" stroke="#1c1c1c" stroke-width="1.15"/>
<line x1="164.00" y1="143.20" x2="164.00" y2="256.60" stroke="#ff2020" stroke-width="1.15"/>
<line x1="164.00" y1="233.50" x2="161.70" y2="233.50" stroke="#ff2020" stroke-width="1.0"/>
<text x="166.60" y="235.84" font-size="6.8" text-anchor="start" fill="#ff2020">4</text>
<line x1="164.00" y1="188.60" x2="161.70" y2="188.60" stroke="#ff2020" stroke-width="1.0"/>
<text x="166.60" y="190.94" font-size="6.8" text-anchor="start" fill="#ff2020">5</text>
<line x1="164.00" y1="143.70" x2="161.70" y2="143.70" stroke="#ff2020" stroke-width="1.0"/>
<text x="166.60" y="146.04" font-size="6.8" text-anchor="start" fill="#ff2020">6</text>
<line x1="164.00" y1="255.95" x2="162.60" y2="255.95" stroke="#ff2020" stroke-width="1.0"/>
<line x1="164.00" y1="211.05" x2="162.60" y2="211.05" stroke="#ff2020" stroke-width="1.0"/>
<line x1="164.00" y1="166.15" x2="162.60" y2="166.15" stroke="#ff2020" stroke-width="1.0"/>
<text x="31.80" y="154.20" font-size="10.7" text-anchor="start" fill="#111">(d)</text>
<line x1="33.50" y1="188.70" x2="43.40" y2="188.70" stroke="#141414" stroke-width="1.0"/>
<path d="M31.8,188.7 L35.3,187.1 L35.3,190.3Z" fill="#141414"/>
<line x1="148.50" y1="212.00" x2="159.80" y2="212.00" stroke="#ff1e1e" stroke-width="1.0"/>
<path d="M161.5,212 L158.0,210.4 L158.0,213.6Z" fill="#ff1e1e"/>
<line x1="76.25" y1="219.90" x2="92.20" y2="219.90" stroke="#141414" stroke-width="1.0"/>
<circle cx="84.20" cy="219.90" r="1.10" fill="#141414"/>
<text x="94.30" y="222.60" font-size="7.6" text-anchor="start" fill="#111">n</text>
<line x1="76.25" y1="233.30" x2="92.20" y2="233.30" stroke="#ff1e1e" stroke-width="1.0"/>
<path d="M83.23,232.00L83.23,234.60L85.56,233.30Z" fill="#ff1e1e"/>
<text x="94.30" y="235.90" font-size="7.6" text-anchor="start" fill="#ff1e1e">μ</text>
<text transform="translate(12.50,200.60) rotate(-90)" font-size="9.0" text-anchor="middle" fill="#111" textLength="53.60" lengthAdjust="spacingAndGlyphs">n (×10<tspan baseline-shift="4.4" font-size="5.6">19</tspan> cm<tspan baseline-shift="4.4" font-size="5.6">-3</tspan>)</text>
<text transform="translate(180.30,198.65) rotate(-90)" font-size="9.0" text-anchor="middle" fill="#ff2020" textLength="55.50" lengthAdjust="spacingAndGlyphs">μ (cm<tspan baseline-shift="4.4" font-size="5.6">2</tspan> V<tspan baseline-shift="4.4" font-size="5.6">-1</tspan> s<tspan baseline-shift="4.4" font-size="5.6">-1</tspan>)</text>
<text x="69.00" y="276.30" font-size="9.6" text-anchor="start" fill="#111" textLength="69.00" lengthAdjust="spacingAndGlyphs">Temperature (K)</text>
<line x1="210.10" y1="255.80" x2="210.10" y2="258.10" stroke="#1c1c1c" stroke-width="1.0"/>
<text x="210.10" y="265.90" font-size="7.4" text-anchor="middle" fill="#111">280</text>
<line x1="228.95" y1="255.80" x2="228.95" y2="258.10" stroke="#1c1c1c" stroke-width="1.0"/>
<text x="228.95" y="265.90" font-size="7.4" text-anchor="middle" fill="#111">300</text>
<line x1="247.80" y1="255.80" x2="247.80" y2="258.10" stroke="#1c1c1c" stroke-width="1.0"/>
<text x="247.80" y="265.90" font-size="7.4" text-anchor="middle" fill="#111">320</text>
<line x1="266.65" y1="255.80" x2="266.65" y2="258.10" stroke="#1c1c1c" stroke-width="1.0"/>
<text x="266.65" y="265.90" font-size="7.4" text-anchor="middle" fill="#111">340</text>
<line x1="285.50" y1="255.80" x2="285.50" y2="258.10" stroke="#1c1c1c" stroke-width="1.0"/>
<text x="285.50" y="265.90" font-size="7.4" text-anchor="middle" fill="#111">360</text>
<line x1="304.35" y1="255.80" x2="304.35" y2="258.10" stroke="#1c1c1c" stroke-width="1.0"/>
<text x="304.35" y="265.90" font-size="7.4" text-anchor="middle" fill="#111">380</text>
<line x1="323.20" y1="255.80" x2="323.20" y2="258.10" stroke="#1c1c1c" stroke-width="1.0"/>
<text x="323.20" y="265.90" font-size="7.4" text-anchor="middle" fill="#111">400</text>
<line x1="342.05" y1="255.80" x2="342.05" y2="258.10" stroke="#1c1c1c" stroke-width="1.0"/>
<text x="342.05" y="265.90" font-size="7.4" text-anchor="middle" fill="#111">420</text>
<line x1="360.90" y1="255.80" x2="360.90" y2="258.10" stroke="#1c1c1c" stroke-width="1.0"/>
<text x="360.90" y="265.90" font-size="7.4" text-anchor="middle" fill="#111">440</text>
<line x1="219.53" y1="255.80" x2="219.53" y2="257.20" stroke="#1c1c1c" stroke-width="1.0"/>
<line x1="238.38" y1="255.80" x2="238.38" y2="257.20" stroke="#1c1c1c" stroke-width="1.0"/>
<line x1="257.22" y1="255.80" x2="257.22" y2="257.20" stroke="#1c1c1c" stroke-width="1.0"/>
<line x1="276.07" y1="255.80" x2="276.07" y2="257.20" stroke="#1c1c1c" stroke-width="1.0"/>
<line x1="294.92" y1="255.80" x2="294.92" y2="257.20" stroke="#1c1c1c" stroke-width="1.0"/>
<line x1="313.77" y1="255.80" x2="313.77" y2="257.20" stroke="#1c1c1c" stroke-width="1.0"/>
<line x1="332.62" y1="255.80" x2="332.62" y2="257.20" stroke="#1c1c1c" stroke-width="1.0"/>
<line x1="351.47" y1="255.80" x2="351.47" y2="257.20" stroke="#1c1c1c" stroke-width="1.0"/>
<line x1="207.80" y1="244.54" x2="210.10" y2="244.54" stroke="#1c1c1c" stroke-width="1.0"/>
<text x="206.10" y="247.09" font-size="7.4" text-anchor="end" fill="#111">50</text>
<line x1="207.80" y1="222.01" x2="210.10" y2="222.01" stroke="#1c1c1c" stroke-width="1.0"/>
<text x="206.10" y="224.56" font-size="7.4" text-anchor="end" fill="#111">100</text>
<line x1="207.80" y1="199.49" x2="210.10" y2="199.49" stroke="#1c1c1c" stroke-width="1.0"/>
<text x="206.10" y="202.04" font-size="7.4" text-anchor="end" fill="#111">150</text>
<line x1="207.80" y1="176.96" x2="210.10" y2="176.96" stroke="#1c1c1c" stroke-width="1.0"/>
<text x="206.10" y="179.51" font-size="7.4" text-anchor="end" fill="#111">200</text>
<line x1="207.80" y1="154.44" x2="210.10" y2="154.44" stroke="#1c1c1c" stroke-width="1.0"/>
<text x="206.10" y="156.99" font-size="7.4" text-anchor="end" fill="#111">250</text>
<line x1="208.70" y1="255.80" x2="210.10" y2="255.80" stroke="#1c1c1c" stroke-width="1.0"/>
<line x1="208.70" y1="233.28" x2="210.10" y2="233.28" stroke="#1c1c1c" stroke-width="1.0"/>
<line x1="208.70" y1="210.75" x2="210.10" y2="210.75" stroke="#1c1c1c" stroke-width="1.0"/>
<line x1="208.70" y1="188.23" x2="210.10" y2="188.23" stroke="#1c1c1c" stroke-width="1.0"/>
<line x1="208.70" y1="165.70" x2="210.10" y2="165.70" stroke="#1c1c1c" stroke-width="1.0"/>
<line x1="208.70" y1="143.18" x2="210.10" y2="143.18" stroke="#1c1c1c" stroke-width="1.0"/>
<polyline points="227.50,238.50 236.90,238.10 245.50,237.50 254.60,235.60 264.60,234.40 275.00,229.40 286.10,238.50 296.25,244.40 306.00,244.80 317.50,244.40 326.40,245.40 335.90,244.80 346.30,245.80" fill="none" stroke="#141414" stroke-width="1.2" stroke-linejoin="round"/>
<path d="M225.95,237.49L229.05,237.49L227.50,239.92Z" fill="#141414"/>
<path d="M235.35,237.09L238.45,237.09L236.90,239.52Z" fill="#141414"/>
<path d="M243.95,236.49L247.05,236.49L245.50,238.92Z" fill="#141414"/>
<path d="M253.05,234.59L256.15,234.59L254.60,237.02Z" fill="#141414"/>
<path d="M263.05,233.39L266.15,233.39L264.60,235.82Z" fill="#141414"/>
<path d="M273.45,228.39L276.55,228.39L275.00,230.82Z" fill="#141414"/>
<path d="M284.55,237.49L287.65,237.49L286.10,239.92Z" fill="#141414"/>
<path d="M294.70,243.39L297.80,243.39L296.25,245.82Z" fill="#141414"/>
<path d="M304.45,243.79L307.55,243.79L306.00,246.22Z" fill="#141414"/>
<path d="M315.95,243.39L319.05,243.39L317.50,245.82Z" fill="#141414"/>
<path d="M324.85,244.39L327.95,244.39L326.40,246.82Z" fill="#141414"/>
<path d="M334.35,243.79L337.45,243.79L335.90,246.22Z" fill="#141414"/>
<path d="M344.75,244.79L347.85,244.79L346.30,247.22Z" fill="#141414"/>
<polyline points="227.50,210.00 236.90,209.40 245.50,206.25 254.60,202.10 264.60,199.00 275.00,197.90 286.10,198.60 296.25,206.80 306.00,207.50 317.50,207.50 326.40,205.60 335.90,206.25 346.30,209.20" fill="none" stroke="#1e1eff" stroke-width="1.2" stroke-linejoin="round"/>
<circle cx="227.50" cy="210.00" r="1.35" fill="#1e1eff"/>
<circle cx="236.90" cy="209.40" r="1.35" fill="#1e1eff"/>
<circle cx="245.50" cy="206.25" r="1.35" fill="#1e1eff"/>
<circle cx="254.60" cy="202.10" r="1.35" fill="#1e1eff"/>
<circle cx="264.60" cy="199.00" r="1.35" fill="#1e1eff"/>
<circle cx="275.00" cy="197.90" r="1.35" fill="#1e1eff"/>
<circle cx="286.10" cy="198.60" r="1.35" fill="#1e1eff"/>
<circle cx="296.25" cy="206.80" r="1.35" fill="#1e1eff"/>
<circle cx="306.00" cy="207.50" r="1.35" fill="#1e1eff"/>
<circle cx="317.50" cy="207.50" r="1.35" fill="#1e1eff"/>
<circle cx="326.40" cy="205.60" r="1.35" fill="#1e1eff"/>
<circle cx="335.90" cy="206.25" r="1.35" fill="#1e1eff"/>
<circle cx="346.30" cy="209.20" r="1.35" fill="#1e1eff"/>
<polyline points="227.50,199.60 236.90,197.00 245.50,192.90 254.60,186.00 264.60,176.90 275.00,166.60 286.10,167.00 296.25,170.20 306.00,165.00 317.50,160.00 326.40,156.90 335.90,159.00 346.30,174.40" fill="none" stroke="#ff1e1e" stroke-width="1.2" stroke-linejoin="round"/>
<circle cx="227.50" cy="199.60" r="1.35" fill="#ff1e1e"/>
<circle cx="236.90" cy="197.00" r="1.35" fill="#ff1e1e"/>
<circle cx="245.50" cy="192.90" r="1.35" fill="#ff1e1e"/>
<circle cx="254.60" cy="186.00" r="1.35" fill="#ff1e1e"/>
<circle cx="264.60" cy="176.90" r="1.35" fill="#ff1e1e"/>
<circle cx="275.00" cy="166.60" r="1.35" fill="#ff1e1e"/>
<circle cx="286.10" cy="167.00" r="1.35" fill="#ff1e1e"/>
<circle cx="296.25" cy="170.20" r="1.35" fill="#ff1e1e"/>
<circle cx="306.00" cy="165.00" r="1.35" fill="#ff1e1e"/>
<circle cx="317.50" cy="160.00" r="1.35" fill="#ff1e1e"/>
<circle cx="326.40" cy="156.90" r="1.35" fill="#ff1e1e"/>
<circle cx="335.90" cy="159.00" r="1.35" fill="#ff1e1e"/>
<circle cx="346.30" cy="174.40" r="1.35" fill="#ff1e1e"/>
<polyline points="227.50,210.00 236.90,207.90 245.50,205.80 254.60,197.60 264.60,194.50 275.00,187.70 286.10,189.10 296.25,197.90 306.00,199.00 317.50,195.80 326.40,194.00 335.90,193.10 346.30,190.00" fill="none" stroke="#ff1eff" stroke-width="1.2" stroke-linejoin="round"/>
<circle cx="227.50" cy="210.00" r="1.35" fill="#ff1eff"/>
<circle cx="236.90" cy="207.90" r="1.35" fill="#ff1eff"/>
<circle cx="245.50" cy="205.80" r="1.35" fill="#ff1eff"/>
<circle cx="254.60" cy="197.60" r="1.35" fill="#ff1eff"/>
<circle cx="264.60" cy="194.50" r="1.35" fill="#ff1eff"/>
<circle cx="275.00" cy="187.70" r="1.35" fill="#ff1eff"/>
<circle cx="286.10" cy="189.10" r="1.35" fill="#ff1eff"/>
<circle cx="296.25" cy="197.90" r="1.35" fill="#ff1eff"/>
<circle cx="306.00" cy="199.00" r="1.35" fill="#ff1eff"/>
<circle cx="317.50" cy="195.80" r="1.35" fill="#ff1eff"/>
<circle cx="326.40" cy="194.00" r="1.35" fill="#ff1eff"/>
<circle cx="335.90" cy="193.10" r="1.35" fill="#ff1eff"/>
<circle cx="346.30" cy="190.00" r="1.35" fill="#ff1eff"/>
<rect x="210.10" y="143.70" width="150.80" height="112.10" fill="none" stroke="#1c1c1c" stroke-width="1.15"/>
<text x="212.40" y="154.20" font-size="10.7" text-anchor="start" fill="#111">(e)</text>
<line x1="227.90" y1="150.80" x2="242.10" y2="150.80" stroke="#141414" stroke-width="1.3"/>
<path d="M233.39,149.75L236.61,149.75L235.00,152.27Z" fill="#141414"/>
<text x="243.10" y="153.15" font-size="6.3" text-anchor="start" fill="#141414">y=0</text>
<line x1="227.90" y1="158.60" x2="242.10" y2="158.60" stroke="#1e1eff" stroke-width="1.3"/>
<circle cx="235.00" cy="158.60" r="1.40" fill="#1e1eff"/>
<text x="243.10" y="160.95" font-size="6.3" text-anchor="start" fill="#1e1eff">y=0.01</text>
<line x1="227.90" y1="166.40" x2="242.10" y2="166.40" stroke="#ff1e1e" stroke-width="1.3"/>
<circle cx="235.00" cy="166.40" r="1.40" fill="#ff1e1e"/>
<text x="243.10" y="168.75" font-size="6.3" text-anchor="start" fill="#ff1e1e">y=0.02</text>
<line x1="227.90" y1="174.20" x2="242.10" y2="174.20" stroke="#ff1eff" stroke-width="1.3"/>
<circle cx="235.00" cy="174.20" r="1.40" fill="#ff1eff"/>
<text x="243.10" y="176.55" font-size="6.3" text-anchor="start" fill="#ff1eff">y=0.03</text>
<text transform="translate(192.50,201.10) rotate(-90)" font-size="9.0" text-anchor="middle" fill="#111" textLength="65.60" lengthAdjust="spacingAndGlyphs">PF (μW m<tspan baseline-shift="4.4" font-size="5.6">-1</tspan> K<tspan baseline-shift="4.4" font-size="5.6">-2</tspan>)</text>
<text x="249.00" y="276.20" font-size="9.6" text-anchor="start" fill="#111" textLength="68.90" lengthAdjust="spacingAndGlyphs">Temperature (K)</text>
<rect x="389.5" y="143.5" width="75.35" height="112.60" fill="url(#gG)"/>
<rect x="464.85" y="143.5" width="75.35" height="112.60" fill="url(#gY)"/>
<rect x="392.70" y="228.00" width="13.00" height="28.10" fill="#c0c0c0" stroke="#222" stroke-width="0.6"/>
<line x1="399.20" y1="256.10" x2="399.20" y2="258.40" stroke="#1c1c1c" stroke-width="1.0"/>
<text transform="translate(401.40,261.10) rotate(-45)" font-size="4.6" text-anchor="end" fill="#111">Chen et al. 2021</text>
<rect x="411.54" y="222.38" width="13.00" height="33.72" fill="#808080" stroke="#222" stroke-width="0.6"/>
<line x1="418.04" y1="256.10" x2="418.04" y2="258.40" stroke="#1c1c1c" stroke-width="1.0"/>
<text transform="translate(420.24,261.10) rotate(-45)" font-size="4.6" text-anchor="end" fill="#111">Wang et al. 2023</text>
<rect x="430.38" y="213.76" width="13.00" height="42.34" fill="#ffff80" stroke="#222" stroke-width="0.6"/>
<line x1="436.88" y1="256.10" x2="436.88" y2="258.40" stroke="#1c1c1c" stroke-width="1.0"/>
<text transform="translate(439.08,261.10) rotate(-45)" font-size="4.6" text-anchor="end" fill="#111">Yan et al. 2017</text>
<rect x="449.22" y="162.43" width="13.00" height="93.68" fill="#80ffff" stroke="#222" stroke-width="0.6"/>
<line x1="455.72" y1="256.10" x2="455.72" y2="258.40" stroke="#1c1c1c" stroke-width="1.0"/>
<text transform="translate(457.92,261.10) rotate(-45)" font-size="4.6" text-anchor="end" fill="#111">Yao et al. 2022</text>
<rect x="468.06" y="253.48" width="13.00" height="2.62" fill="#000080" stroke="#222" stroke-width="0.6"/>
<line x1="474.56" y1="256.10" x2="474.56" y2="258.40" stroke="#1c1c1c" stroke-width="1.0"/>
<text transform="translate(476.76,261.10) rotate(-45)" font-size="4.6" text-anchor="end" fill="#111">Zhou et al. 2022</text>
<rect x="486.90" y="250.10" width="13.00" height="6.00" fill="#ff8000" stroke="#222" stroke-width="0.6"/>
<line x1="493.40" y1="256.10" x2="493.40" y2="258.40" stroke="#1c1c1c" stroke-width="1.0"/>
<text transform="translate(495.60,261.10) rotate(-45)" font-size="4.6" text-anchor="end" fill="#111">Liu et al. 2021</text>
<rect x="505.74" y="213.38" width="13.00" height="42.72" fill="#8000ff" stroke="#222" stroke-width="0.6"/>
<line x1="512.24" y1="256.10" x2="512.24" y2="258.40" stroke="#1c1c1c" stroke-width="1.0"/>
<text transform="translate(514.44,261.10) rotate(-45)" font-size="4.6" text-anchor="end" fill="#111">Zuo et al. 2023</text>
<rect x="524.58" y="199.52" width="13.00" height="56.58" fill="#ff0080" stroke="#222" stroke-width="0.6"/>
<line x1="531.08" y1="256.10" x2="531.08" y2="258.40" stroke="#1c1c1c" stroke-width="1.0"/>
<text transform="translate(533.28,261.10) rotate(-45)" font-size="4.6" text-anchor="end" fill="#111">this work</text>
<line x1="387.20" y1="256.10" x2="389.50" y2="256.10" stroke="#1c1c1c" stroke-width="1.0"/>
<text x="385.50" y="258.65" font-size="7.4" text-anchor="end" fill="#111">0</text>
<line x1="387.20" y1="237.37" x2="389.50" y2="237.37" stroke="#1c1c1c" stroke-width="1.0"/>
<text x="385.50" y="239.92" font-size="7.4" text-anchor="end" fill="#111">50</text>
<line x1="387.20" y1="218.63" x2="389.50" y2="218.63" stroke="#1c1c1c" stroke-width="1.0"/>
<text x="385.50" y="221.18" font-size="7.4" text-anchor="end" fill="#111">100</text>
<line x1="387.20" y1="199.90" x2="389.50" y2="199.90" stroke="#1c1c1c" stroke-width="1.0"/>
<text x="385.50" y="202.45" font-size="7.4" text-anchor="end" fill="#111">150</text>
<line x1="387.20" y1="181.16" x2="389.50" y2="181.16" stroke="#1c1c1c" stroke-width="1.0"/>
<text x="385.50" y="183.71" font-size="7.4" text-anchor="end" fill="#111">200</text>
<line x1="387.20" y1="162.43" x2="389.50" y2="162.43" stroke="#1c1c1c" stroke-width="1.0"/>
<text x="385.50" y="164.98" font-size="7.4" text-anchor="end" fill="#111">250</text>
<line x1="387.20" y1="143.69" x2="389.50" y2="143.69" stroke="#1c1c1c" stroke-width="1.0"/>
<text x="385.50" y="146.24" font-size="7.4" text-anchor="end" fill="#111">300</text>
<line x1="388.10" y1="246.73" x2="389.50" y2="246.73" stroke="#1c1c1c" stroke-width="1.0"/>
<line x1="388.10" y1="228.00" x2="389.50" y2="228.00" stroke="#1c1c1c" stroke-width="1.0"/>
<line x1="388.10" y1="209.26" x2="389.50" y2="209.26" stroke="#1c1c1c" stroke-width="1.0"/>
<line x1="388.10" y1="190.53" x2="389.50" y2="190.53" stroke="#1c1c1c" stroke-width="1.0"/>
<line x1="388.10" y1="171.79" x2="389.50" y2="171.79" stroke="#1c1c1c" stroke-width="1.0"/>
<line x1="388.10" y1="153.06" x2="389.50" y2="153.06" stroke="#1c1c1c" stroke-width="1.0"/>
<rect x="389.50" y="143.50" width="150.70" height="112.60" fill="none" stroke="#1c1c1c" stroke-width="1.15"/>
<text x="393.10" y="154.20" font-size="10.7" text-anchor="start" fill="#111">(f)</text>
<text x="445.60" y="155.20" font-size="7.0" text-anchor="start" fill="#111" textLength="15.30" lengthAdjust="spacingAndGlyphs">Bulks</text>
<text x="499.80" y="155.20" font-size="7.0" text-anchor="start" fill="#111" textLength="37.70" lengthAdjust="spacingAndGlyphs">Flexible films</text>
<text transform="translate(371.20,200.95) rotate(-90)" font-size="9.0" text-anchor="middle" fill="#111" textLength="65.90" lengthAdjust="spacingAndGlyphs">PF (μW m<tspan baseline-shift="4.4" font-size="5.6">-1</tspan> K<tspan baseline-shift="4.4" font-size="5.6">-2</tspan>)</text>
</svg></body></html>
